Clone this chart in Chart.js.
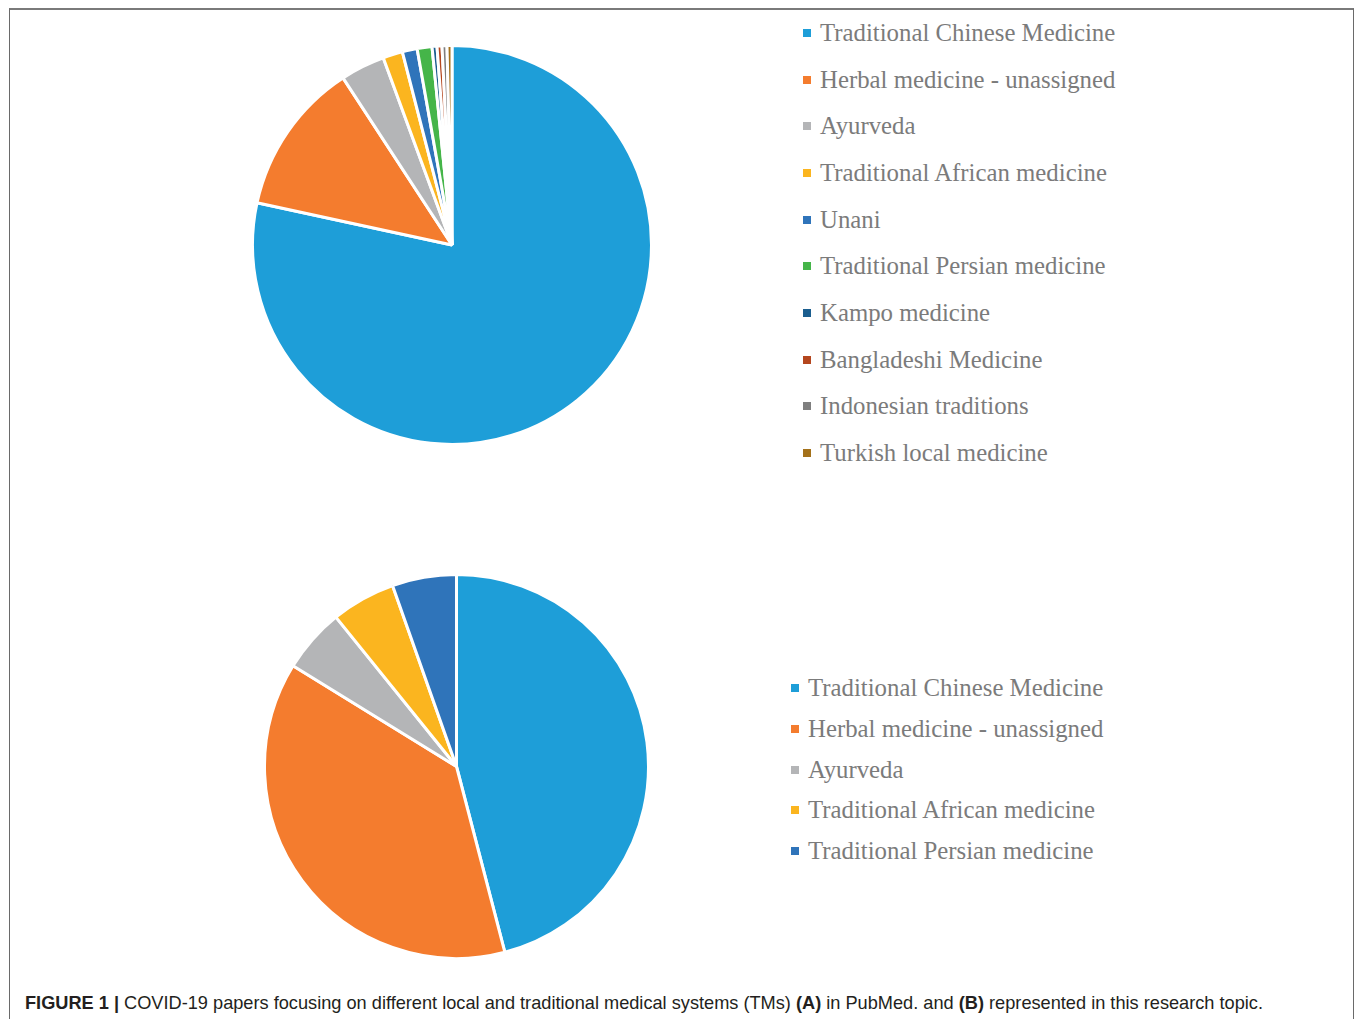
<!DOCTYPE html>
<html>
<head>
<meta charset="utf-8">
<script src="https://cdn.jsdelivr.net/npm/chart.js@4"></script>
<style>
  body { margin: 0; background: #fff; width: 1355px; height: 1019px; overflow: hidden; position: relative; }
  .frame { position: absolute; left: 9px; top: 8px; width: 1343px; height: 1100px;
           border-top: 2px solid #7a7a7a; border-left: 1.5px solid #6a6a6a; border-right: 1.5px solid #6a6a6a; }
  .pie { position: absolute; }
  .legend { position: absolute; margin: 0; padding: 0; list-style: none;
            font-family: "Liberation Serif", "Times New Roman", serif; font-size: 24.8px; color: #7b7b7b; }
  .legend li { position: absolute; left: 0; white-space: nowrap; line-height: 30px; height: 30px; }
  .legend li span.box { position: absolute; left: 0; top: 11px; width: 8px; height: 8px; }
  .legend li span.txt { position: absolute; left: 17px; top: 0; }
  .caption { position: absolute; left: 25px; top: 993px; font-family: "Liberation Sans", Arial, sans-serif;
             font-size: 18.2px; color: #231f20; white-space: nowrap; }
</style>
</head>
<body>
<div class="frame"></div>

<div class="pie" style="left:251px; top:44px; width:402px; height:402px;"><canvas id="pieA"></canvas></div>
<ul class="legend" id="legendA" style="left:803px; top:18px;"></ul>

<div class="pie" style="left:263px; top:573px; width:387px; height:387px;"><canvas id="pieB"></canvas></div>
<ul class="legend" id="legendB" style="left:791px; top:673px;"></ul>

<div class="caption"><b>FIGURE 1 |</b> COVID-19 papers focusing on different local and traditional medical systems (TMs) <b>(A)</b> in PubMed. and <b>(B)</b> represented in this research topic.</div>

<script>
// (A) PubMed
const labelsA = ['Traditional Chinese Medicine', 'Herbal medicine - unassigned', 'Ayurveda',
    'Traditional African medicine', 'Unani', 'Traditional Persian medicine', 'Kampo medicine',
    'Bangladeshi Medicine', 'Indonesian traditions', 'Turkish local medicine'];
const valuesA = [196, 31, 9, 4, 3, 3, 1, 1, 1, 1];
const colorsA = ['#1e9ed8', '#f47c2e', '#b4b5b7', '#fbb51f', '#2f74ba', '#45b549',
    '#1b5e8f', '#b4461e', '#7f7f7f', '#a4711a'];

// (B) this research topic
const labelsB = ['Traditional Chinese Medicine', 'Herbal medicine - unassigned', 'Ayurveda',
    'Traditional African medicine', 'Traditional Persian medicine'];
const valuesB = [17, 14, 2, 2, 2];
const colorsB = ['#1e9ed8', '#f47c2e', '#b4b5b7', '#fbb51f', '#2f74ba'];

const makePie = (id, labels, values, colors) => {
    return new Chart(document.getElementById(id), {
        type: 'pie',
        data: {
            labels: labels,
            datasets: [{
                data: values,
                backgroundColor: colors,
                borderColor: '#ffffff',
                borderWidth: 3
            }]
        },
        options: {
            responsive: true,
            maintainAspectRatio: false,
            animation: false,
            layout: { padding: 0 },
            plugins: { legend: { display: false }, tooltip: { enabled: false } }
        }
    });
};

// html legend, rows spaced like the original
const makeLegend = (id, labels, colors, step) => {
    const ul = document.getElementById(id);
    labels.forEach((l, i) => {
        const li = document.createElement('li');
        li.style.top = (i * step) + 'px';
        li.innerHTML = `<span class="box" style="background:${colors[i]}"></span><span class="txt">${l}</span>`;
        ul.appendChild(li);
    });
};

makePie('pieA', labelsA, valuesA, colorsA);
makePie('pieB', labelsB, valuesB, colorsB);
makeLegend('legendA', labelsA, colorsA, 46.67);
makeLegend('legendB', labelsB, colorsB, 40.75);
</script>
</body>
</html>
